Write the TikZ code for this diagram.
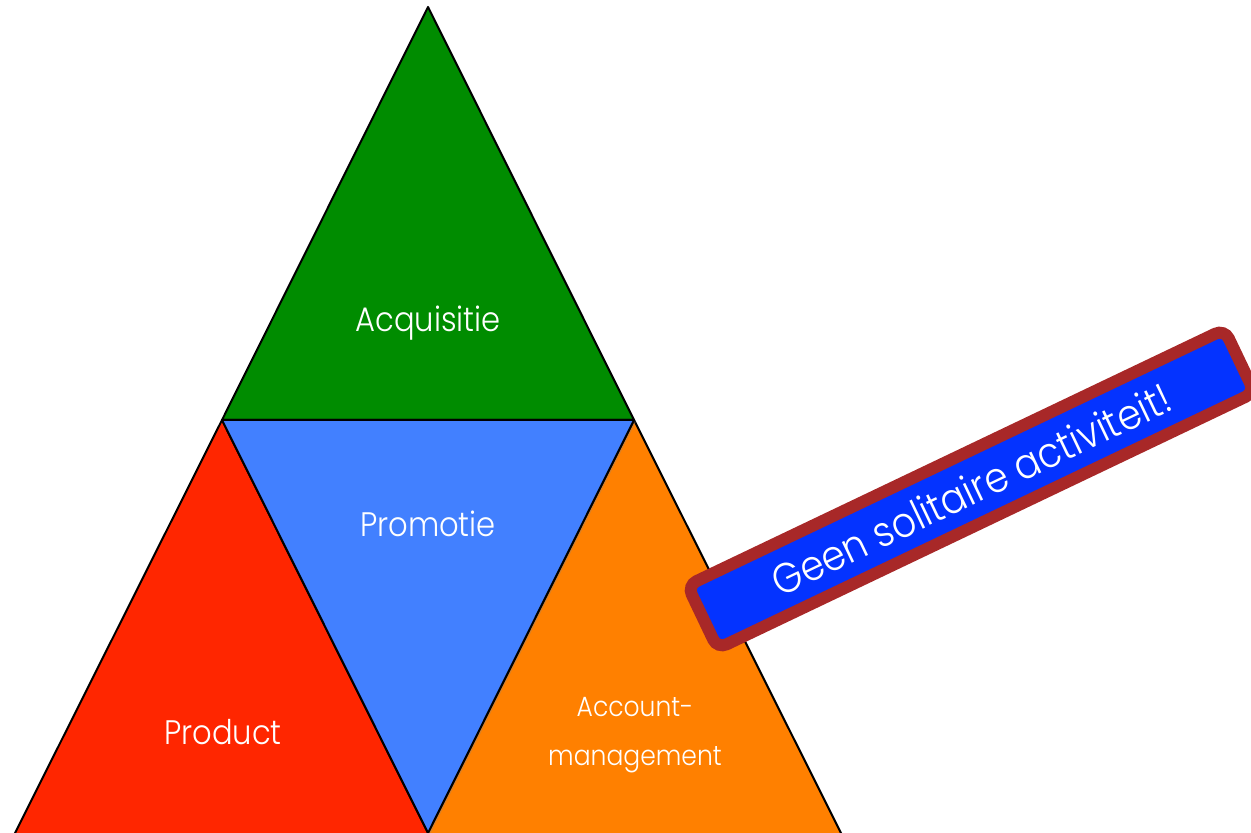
\documentclass[tikz,border=0pt]{standalone}
\usepackage{fontspec}
\setmainfont{Poppins}[UprightFont=*-Light, FakeStretch=0.9]
\usetikzlibrary{shadows}
\definecolor{acqgreen}{RGB}{0,140,0}
\definecolor{promoblue}{RGB}{66,128,255}
\definecolor{prodred}{RGB}{255,38,0}
\definecolor{accorange}{RGB}{255,128,0}
\definecolor{bannerblue}{RGB}{4,51,255}
\definecolor{bannerrim}{RGB}{168,40,40}
\tikzset{part/.style={draw=black, line width=2pt, line join=round,
                      drop shadow={shadow xshift=2pt, shadow yshift=-1.5pt, opacity=0.3}}}
\tikzset{parttext/.style={text=white, font=\fontsize{34}{40}\selectfont, align=center}}
\tikzset{banner/.style={rectangle, rounded corners=10pt, draw=bannerrim, line width=12pt,
                        fill=bannerblue, text=white, inner sep=0pt,
                        minimum width=595pt, minimum height=70pt,
                        drop shadow={shadow xshift=2pt, shadow yshift=-2pt, opacity=0.25},
                        font=\fontsize{42}{44}\selectfont}}

\begin{document}
\begin{tikzpicture}[x=1pt, y=1pt]
    \useasboundingbox (0,0) rectangle (1251,833);

    \coordinate (top) at (428,826);
    \coordinate (midl) at (222,413);
    \coordinate (midr) at (634,413);
    \coordinate (low) at (428,0);

    % the four parts of the pyramid
    \filldraw [part, fill=acqgreen] (top) -- (midr) -- (midl) -- cycle;
    \filldraw [part, fill=prodred] (midl) -- (436,-16) -- (7,-16) -- cycle;
    \filldraw [part, fill=accorange] (midr) -- (849,-16) -- (420,-16) -- cycle;
    \filldraw [part, fill=promoblue] (midl) -- (midr) -- (low) -- cycle;

    \node [parttext] (acq) at (428,510) {Acquisitie};
    \node [parttext] (promo) at (428,309) {Promotie};
    \node [parttext] (prod) at (223,101) {Product};
    \node [parttext, font=\fontsize{27.8}{49}\selectfont] (acc) at (635,98) {Account-\\management};

    \node [banner, rotate=25.5] (note) at (971,344) {Geen solitaire activiteit!};
\end{tikzpicture}
\end{document}
